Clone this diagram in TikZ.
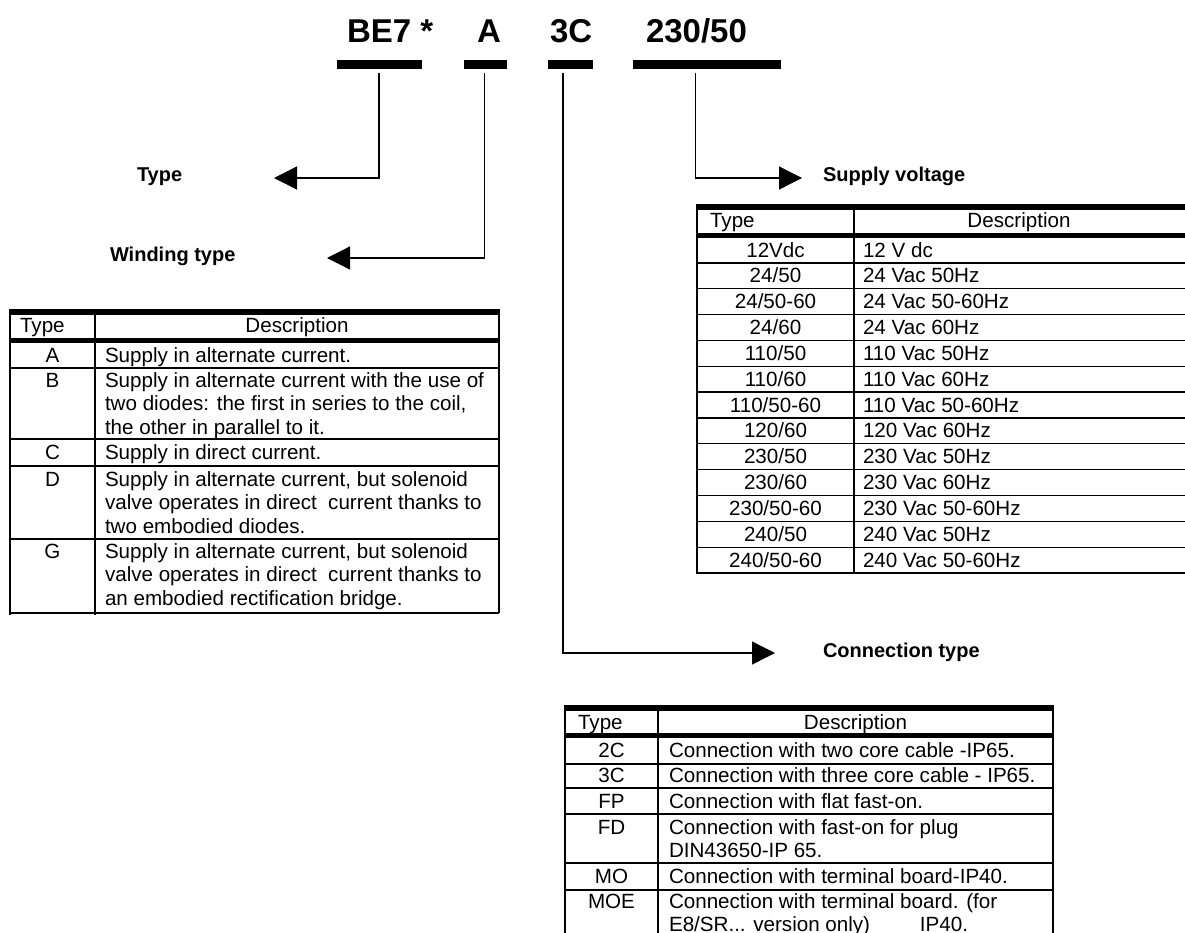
\documentclass[tikz,border=0pt]{standalone}
\usepackage{fontspec}
\setmainfont{Liberation Sans}
\usetikzlibrary{arrows.meta}
\begin{document}
\begin{tikzpicture}[x=1pt,y=-1pt,
  every node/.style={inner sep=0pt,outer sep=0pt},
  bar/.style={fill=black,minimum height=9pt,draw=none},
  title/.style={font=\fontsize{33}{36}\selectfont\bfseries,anchor=base west},
  lbl/.style={font=\fontsize{20}{23}\selectfont\bfseries,anchor=base west},
  conn/.style={line width=1.3pt,shorten <=4pt,-{Triangle[length=23pt,width=23pt]}},
  rule/.style={line width=1.3pt},
  topbar/.style={line width=6pt},
  headbar/.style={line width=5pt},
  cell/.style={font=\fontsize{20.6}{23.5}\selectfont,anchor=base west},
  ccell/.style={font=\fontsize{20.6}{23.5}\selectfont,anchor=base}]
\useasboundingbox (0,0) rectangle (1185,932);
\clip (0,0) rectangle (1185,932);
% title
\node[title] (c1) at (347,42) {BE7 *};
\node[title] (c2) at (477,42) {A};
\node[title] (c3) at (550,42) {3C};
\node[title] (c4) at (646,42) {230/50};
\node[bar,minimum width=85pt] (b1) at (379.5,64.5) {};
\node[bar,minimum width=43pt] (b2) at (485.5,64.5) {};
\node[bar,minimum width=45pt] (b3) at (570.5,64.5) {};
\node[bar,minimum width=148pt] (b4) at (707,64.5) {};
% labels
\node[lbl] (ltype) at (137,181) {Type};
\node[lbl] (lwind) at (110,261) {Winding type};
\node[lbl] (lsup) at (823,181) {Supply voltage};
\node[lbl] (lcon) at (823,657) {Connection type};
\coordinate (t1) at (274,178);
\coordinate (t2) at (327,258);
\coordinate (t3) at (775,653);
\coordinate (t4) at (802,178);
\draw[conn] ([xshift=-0.5pt]b1.south) |- (t1);
\draw[conn] ([xshift=-1pt]b2.south) |- (t2);
\draw[conn] ([xshift=-7.5pt]b3.south) |- (t3);
\draw[conn] ([xshift=-11.5pt]b4.south) |- (t4);
% ---------- left table ----------
\draw[topbar] (10,312) -- (499,312);
\draw[headbar] (10,340.5) -- (499,340.5);
\draw[rule] (10,309) -- (10,615) (95,315) -- (95,615) (499,309) -- (499,613);
\foreach \yy in {368,439,466,539,613} \draw[rule] (10,\yy) -- (499,\yy);
\node[cell] (lh1) at (20,332) {Type};
\node[ccell] (lh2) at (297,332) {Description};
\node[ccell] (la) at (52.5,362) {A};
\node[cell] (lad) at (105,362) {Supply in alternate current.};
\node[ccell] (lb) at (52.5,387) {B};
\node[cell] (lbd) at (105,387) {\parbox[t]{390pt}{Supply in alternate current with the use of\\two diodes: the first in series to the coil,\\the other in parallel to it.}};
\node[ccell] (lc) at (52.5,459) {C};
\node[cell] (lcd) at (105,459) {Supply in direct current.};
\node[ccell] (ld) at (52.5,486) {D};
\node[cell] (ldd) at (105,486) {\parbox[t]{390pt}{Supply in alternate current, but solenoid\\valve operates in direct\ \ current thanks to\\two embodied diodes.}};
\node[ccell] (lg) at (52.5,558) {G};
\node[cell] (lgd) at (105,558) {\parbox[t]{390pt}{Supply in alternate current, but solenoid\\valve operates in direct\ \ current thanks to\\an embodied rectification bridge.}};
% ---------- right table ----------
\draw[topbar] (697,207) -- (1185,207);
\draw[headbar] (697,235.5) -- (1185,235.5);
\draw[rule] (697,204) -- (697,574) (854,210) -- (854,574);
\foreach \i in {1,...,13} \draw[rule] (697,237+25.85*\i) -- (1185,237+25.85*\i);
\node[cell] (rh1) at (710,227) {Type};
\node[ccell] (rh2) at (1019,227) {Description};
\node[ccell] (r1) at (775.5,257) {12Vdc};          \node[cell] (r1d) at (863,257) {12 V dc};
\node[ccell] (r2) at (775.5,282.85) {24/50};      \node[cell] (r2d) at (863,282.85) {24 Vac 50Hz};
\node[ccell] (r3) at (775.5,308.7) {24/50-60};    \node[cell] (r3d) at (863,308.7) {24 Vac 50-60Hz};
\node[ccell] (r4) at (775.5,334.55) {24/60};      \node[cell] (r4d) at (863,334.55) {24 Vac 60Hz};
\node[ccell] (r5) at (775.5,360.4) {110/50};      \node[cell] (r5d) at (863,360.4) {110 Vac 50Hz};
\node[ccell] (r6) at (775.5,386.25) {110/60};     \node[cell] (r6d) at (863,386.25) {110 Vac 60Hz};
\node[ccell] (r7) at (775.5,412.1) {110/50-60};   \node[cell] (r7d) at (863,412.1) {110 Vac 50-60Hz};
\node[ccell] (r8) at (775.5,437.95) {120/60};     \node[cell] (r8d) at (863,437.95) {120 Vac 60Hz};
\node[ccell] (r9) at (775.5,463.8) {230/50};      \node[cell] (r9d) at (863,463.8) {230 Vac 50Hz};
\node[ccell] (r10) at (775.5,489.65) {230/60};    \node[cell] (r10d) at (863,489.65) {230 Vac 60Hz};
\node[ccell] (r11) at (775.5,515.5) {230/50-60};  \node[cell] (r11d) at (863,515.5) {230 Vac 50-60Hz};
\node[ccell] (r12) at (775.5,541.35) {240/50};    \node[cell] (r12d) at (863,541.35) {240 Vac 50Hz};
\node[ccell] (r13) at (775.5,567.2) {240/50-60};  \node[cell] (r13d) at (863,567.2) {240 Vac 50-60Hz};
% ---------- bottom table ----------
\draw[topbar] (565,708) -- (1053,708);
\draw[headbar] (565,735.5) -- (1053,735.5);
\draw[rule] (565,705) -- (565,940) (658,711) -- (658,940) (1053,705) -- (1053,940);
\foreach \yy in {764,788,814,863,890} \draw[rule] (565,\yy) -- (1053,\yy);
\node[cell] (bh1) at (578,729) {Type};
\node[ccell] (bh2) at (855.5,729) {Description};
\node[ccell] (k1) at (611.5,757) {2C};   \node[cell] (k1d) at (669,757) {Connection with two core cable -IP65.};
\node[ccell] (k2) at (611.5,782) {3C};   \node[cell] (k2d) at (669,782) {Connection with three core cable - IP65.};
\node[ccell] (k3) at (611.5,808) {FP};   \node[cell] (k3d) at (669,808) {Connection with flat fast-on.};
\node[ccell] (k4) at (611.5,834) {FD};   \node[cell] (k4d) at (669,834) {\parbox[t]{380pt}{Connection with fast-on for plug\\DIN43650-IP 65.}};
\node[ccell] (k5) at (611.5,883) {MO};   \node[cell] (k5d) at (669,883) {Connection with terminal board-IP40.};
\node[ccell] (k6) at (611.5,908) {MOE};  \node[cell] (k6d) at (669,908) {\parbox[t]{380pt}{Connection with terminal board. (for\\\makebox[251pt][l]{E8/SR... version only)}IP40.}};
\end{tikzpicture}
\end{document}
